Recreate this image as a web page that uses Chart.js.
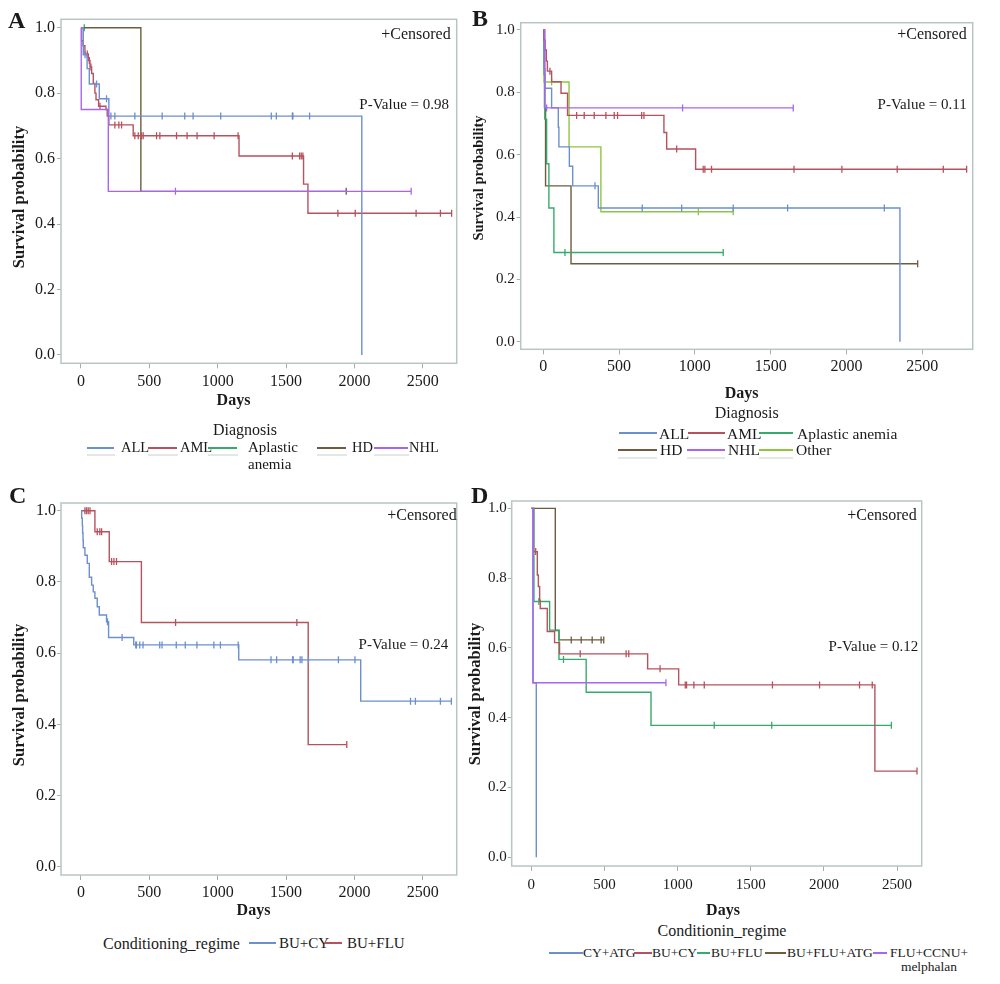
<!DOCTYPE html>
<html>
<head>
<meta charset="utf-8">
<title>Survival curves</title>
<script src="https://cdn.jsdelivr.net/npm/chart.js@4.4.1/dist/chart.umd.min.js"></script>
<style>
  body { margin: 0; background: #fff; }
  #page { position: relative; width: 1000px; height: 984px; overflow: hidden;
          font-family: "Liberation Serif", "Times New Roman", serif; color: #1a1a1a; }
  .box { position: absolute; }
  .t { position: absolute; white-space: nowrap; }
  .sw { position: absolute; }
</style>
</head>
<body>
<div id="page">
  <div class="box" id="boxA"><canvas id="chartA"></canvas></div>
  <div class="box" id="boxB"><canvas id="chartB"></canvas></div>
  <div class="box" id="boxC"><canvas id="chartC"></canvas></div>
  <div class="box" id="boxD"><canvas id="chartD"></canvas></div>
</div>
<script>
const FONT = '"Liberation Serif", "Times New Roman", serif';
const xTicks = [0, 500, 1000, 1500, 2000, 2500];
const yTicks = [0, 0.2, 0.4, 0.6, 0.8, 1.0];

const colBlue = '#6c8fce', colRed = '#b5525d', colGreen = '#35ab6b',
      colBrown = '#6d5c3f', colPurple = '#a866ee', colOlive = '#8ec63f';

// A - Diagnosis (days, survival at each step, censored days)
const aLabels = ['ALL', 'AML', 'Aplastic anemia', 'HD', 'NHL'];
const aAllT = [0, 17, 45, 61, 134, 204, 2054];
const aAllS = [1, 0.917, 0.875, 0.828, 0.783, 0.730, 0];
const aAllC = [30, 114, 187, 219, 248, 394, 594, 759, 820, 1022, 1392, 1429, 1546, 1550, 1672];
const aAmlT = [0, 5, 15, 29, 54, 66, 78, 90, 102, 110, 129, 183, 192, 204, 382, 1156, 1628, 1660];
const aAmlS = [1, 0.96, 0.945, 0.92, 0.90, 0.88, 0.86, 0.83, 0.80, 0.78, 0.76, 0.75, 0.73, 0.703, 0.67, 0.608, 0.522, 0.433];
const aAmlC = [46, 61, 73, 139, 248, 277, 297, 394, 419, 443, 455, 553, 577, 699, 776, 849, 974, 1149, 1546, 1599, 1611, 1623, 1879, 2006, 2451, 2629, 2711];
const aAplT = [0], aAplS = [1], aAplC = [24];
const aHdT = [0, 438], aHdS = [1, 0.5], aHdC = [1940];
const aNhlT = [0, 2, 200], aNhlS = [1, 0.75, 0.5], aNhlC = [691, 2415];

// B - Diagnosis
const bLabels = ['ALL', 'AML', 'Aplastic anemia', 'HD', 'NHL', 'Other'];
const bAllT = [0, 3, 6, 11, 55, 99, 103, 172, 194, 363, 2353];
const bAllS = [1, 0.938, 0.875, 0.813, 0.75, 0.688, 0.625, 0.563, 0.5, 0.429, 0];
const bAllC = [341, 653, 913, 1253, 1612, 2250];
const bAmlT = [0, 5, 12, 20, 27, 55, 117, 160, 796, 814, 1005];
const bAmlS = [1, 0.968, 0.936, 0.90, 0.868, 0.834, 0.797, 0.726, 0.671, 0.618, 0.553];
const bAmlC = [44, 220, 270, 336, 413, 468, 490, 649, 664, 880, 1055, 1066, 1110, 1654, 1970, 2335, 2639, 2793];
const bAplT = [0, 3, 10, 22, 37, 70], bAplS = [1, 0.857, 0.714, 0.571, 0.429, 0.286], bAplC = [143, 1187];
const bHdT = [0, 8, 15, 183], bHdS = [1, 0.75, 0.5, 0.25], bHdC = [2470];
const bNhlT = [0, 10], bNhlS = [1, 0.75], bNhlC = [22, 919, 1649];
const bOthT = [0, 5, 170, 380], bOthS = [1, 0.833, 0.625, 0.417], bOthC = [55, 1023, 1253];

// C - Conditioning regime
const cLabels = ['BU+CY', 'BU+FLU'];
const cCyT = [0, 5, 10, 12, 15, 17, 29, 46, 61, 78, 90, 102, 119, 134, 187, 202, 386, 1154, 2046];
const cCyS = [1, 0.979, 0.958, 0.938, 0.917, 0.896, 0.875, 0.852, 0.813, 0.791, 0.772, 0.754, 0.730, 0.707, 0.688, 0.644, 0.623, 0.581, 0.465];
const cCyC = [194, 301, 401, 406, 430, 454, 576, 593, 697, 763, 848, 972, 1020, 1150, 1390, 1431, 1548, 1552, 1603, 1616, 1664, 1883, 2004, 2410, 2446, 2629, 2709];
const cFluT = [0, 102, 207, 442, 1662];
const cFluS = [1, 0.941, 0.857, 0.686, 0.343];
const cFluC = [29, 41, 53, 66, 119, 138, 151, 224, 241, 260, 692, 1579, 1944];

// D - Conditioning regime
const dLabels = ['CY+ATG', 'BU+CY', 'BU+FLU', 'BU+FLU+ATG', 'FLU+CCNU+ melphalan'];
const dCyAtgT = [0, 12, 34], dCyAtgS = [1, 0.5, 0], dCyAtgC = [];
const dBuCyT = [0, 15, 41, 48, 57, 61, 109, 159, 193, 795, 1007, 2348];
const dBuCyS = [1, 0.876, 0.809, 0.776, 0.737, 0.713, 0.647, 0.615, 0.583, 0.54, 0.494, 0.247];
const dBuCyC = [30, 334, 648, 666, 880, 1052, 1061, 1111, 1182, 1648, 1970, 2243, 2330, 2636];
const dBuFluT = [0, 18, 125, 189, 375, 818], dBuFluS = [1, 0.733, 0.651, 0.567, 0.473, 0.378];
const dBuFluC = [52, 220, 1250, 1643, 2461];
const dAtgT = [0, 164, 189], dAtgS = [1, 0.65, 0.623], dAtgC = [273, 341, 416, 477, 495];
const dMelT = [0, 11], dMelS = [1, 0.5], dMelC = [920];

function survAt(times, surv, t) {
  let s = surv[0];
  for (let i = 0; i < times.length; i++) if (times[i] <= t) s = surv[i];
  return s;
}

// step line + censor ticks for one group
function curve(label, color, times, surv, cens) {
  const last = times[times.length - 1];
  const end = cens.length ? Math.max(last, Math.max(...cens)) : last;
  const pts = times.map((t, i) => ({x: t, y: surv[i]}));
  if (end > last) pts.push({x: end, y: surv[surv.length - 1]});
  return [
    {label: label, data: pts, borderColor: color, borderWidth: 1.4, stepped: true, pointRadius: 0, fill: false},
    {label: label + ' censored', data: cens.map(t => ({x: t, y: survAt(times, surv, t)})),
     showLine: false, pointStyle: 'line', rotation: 90, pointRadius: 3.5, borderColor: color, borderWidth: 1.3}
  ];
}

const framePlugin = {
  id: 'frame',
  beforeDatasetsDraw(chart) {
    const {ctx, chartArea: a} = chart;
    ctx.save();
    ctx.strokeStyle = '#b8c6c3';
    ctx.lineWidth = 1.5;
    ctx.strokeRect(a.left, a.top, a.right - a.left, a.bottom - a.top);
    ctx.restore();
  }
};

// g: canvas box (cl, ct, cw, ch), frame (fl, ft, fr, fb), axis ranges, tick fonts/padding
function makeChart(id, datasets, g) {
  const box = document.getElementById('box' + id);
  box.style.left = g.cl + 'px';
  box.style.top = g.ct + 'px';
  box.style.width = g.cw + 'px';
  box.style.height = g.ch + 'px';
  new Chart(document.getElementById('chart' + id), {
    type: 'line',
    data: {datasets: datasets},
    options: {
      responsive: true,
      maintainAspectRatio: false,
      animation: false,
      events: [],
      layout: {padding: {left: 0, top: g.ft - g.ct, right: g.cl + g.cw - g.fr, bottom: 0}},
      plugins: {legend: {display: false}, tooltip: {enabled: false}},
      scales: {
        x: {
          type: 'linear', min: g.xMin, max: g.xMax,
          afterBuildTicks: s => { s.ticks = xTicks.map(v => ({value: v})); },
          afterFit: s => { s.height = g.ct + g.ch - g.fb; },
          grid: {drawOnChartArea: false, drawTicks: true, tickLength: 5, color: '#a4aeac'},
          border: {display: false},
          ticks: {font: {family: FONT, size: g.xs}, color: '#1a1a1a', padding: g.xp,
                  maxRotation: 0, autoSkip: false, callback: v => String(v)}
        },
        y: {
          type: 'linear', min: g.yMin, max: g.yMax,
          afterBuildTicks: s => { s.ticks = yTicks.map(v => ({value: v})); },
          afterFit: s => { s.width = g.fl - g.cl; },
          grid: {drawOnChartArea: false, drawTicks: true, tickLength: 4, color: '#a4aeac'},
          border: {display: false},
          ticks: {font: {family: FONT, size: g.ys}, color: '#1a1a1a', padding: g.yp,
                  autoSkip: false, callback: v => v.toFixed(1)}
        }
      }
    },
    plugins: [framePlugin]
  });
}

makeChart('A', [
  ...curve(aLabels[4], colPurple, aNhlT, aNhlS, aNhlC),
  ...curve(aLabels[0], colBlue, aAllT, aAllS, aAllC),
  ...curve(aLabels[1], colRed, aAmlT, aAmlS, aAmlC),
  ...curve(aLabels[3], colBrown, aHdT, aHdS, aHdC),
  ...curve(aLabels[2], colGreen, aAplT, aAplS, aAplC)
], {cl: 0, ct: 7, cw: 462, ch: 410, fl: 61, ft: 19.3, fr: 457.3, fb: 363.3,
    xMin: -146, xMax: 2748, yMin: -0.0254, yMax: 1.0257, xs: 16, xp: 4, ys: 16, yp: 2});

makeChart('B', [
  ...curve(bLabels[4], colPurple, bNhlT, bNhlS, bNhlC),
  ...curve(bLabels[1], colRed, bAmlT, bAmlS, bAmlC),
  ...curve(bLabels[0], colBlue, bAllT, bAllS, bAllC),
  ...curve(bLabels[5], colOlive, bOthT, bOthS, bOthC),
  ...curve(bLabels[2], colGreen, bAplT, bAplS, bAplC),
  ...curve(bLabels[3], colBrown, bHdT, bHdS, bHdC)
], {cl: 462, ct: 10, cw: 516, ch: 390, fl: 520.7, ft: 22.7, fr: 972.7, fb: 349.3,
    xMin: -149, xMax: 2833, yMin: -0.0244, yMax: 1.0234, xs: 16, xp: 3, ys: 15, yp: 2});

makeChart('C', [
  ...curve(cLabels[0], colBlue, cCyT, cCyS, cCyC),
  ...curve(cLabels[1], colRed, cFluT, cFluS, cFluC)
], {cl: 0, ct: 490, cw: 462, ch: 430, fl: 61, ft: 503, fr: 458, fb: 875,
    xMin: -146, xMax: 2748, yMin: -0.0233, yMax: 1.0216, xs: 16, xp: 3, ys: 16, yp: 1});

makeChart('D', [
  ...curve(dLabels[4], colPurple, dMelT, dMelS, dMelC),
  ...curve(dLabels[0], colBlue, dCyAtgT, dCyAtgS, dCyAtgC),
  ...curve(dLabels[1], colRed, dBuCyT, dBuCyS, dBuCyC),
  ...curve(dLabels[2], colGreen, dBuFluT, dBuFluS, dBuFluC),
  ...curve(dLabels[3], colBrown, dAtgT, dAtgS, dAtgC)
], {cl: 462, ct: 488, cw: 465, ch: 432, fl: 511.7, ft: 501, fr: 923, fb: 866,
    xMin: -134, xMax: 2668, yMin: -0.025, yMax: 1.021, xs: 15, xp: 5, ys: 15, yp: 1});

// ---- text and legends ----
const page = document.getElementById('page');
function txt(s, x, cy, o = {}) {
  const size = o.size || 16;
  const lh = o.lh || size * 1.1;
  const d = document.createElement('div');
  d.className = 't';
  d.textContent = s;
  d.style.fontSize = size + 'px';
  d.style.lineHeight = lh + 'px';
  if (o.bold) d.style.fontWeight = 'bold';
  if (o.rot) {
    d.style.left = x + 'px';
    d.style.top = cy + 'px';
    d.style.transform = 'translate(-50%, -50%) rotate(-90deg)';
  } else {
    d.style.top = (cy - lh / 2) + 'px';
    if (o.align === 'c') { d.style.left = x + 'px'; d.style.transform = 'translateX(-50%)'; }
    else if (o.align === 'r') d.style.right = (1000 - x) + 'px';
    else d.style.left = x + 'px';
  }
  if (o.width) {
    d.style.width = o.width + 'px';
    d.style.whiteSpace = 'normal';
    d.style.textAlign = o.ta || 'left';
  }
  page.appendChild(d);
}
// legend swatch: a short solid line, snapped to whole pixels
function sw(x1, x2, y, color, w = 2) {
  const d = document.createElement('div');
  d.className = 'sw';
  d.style.left = Math.round(x1) + 'px';
  d.style.top = Math.round(y - w / 2) + 'px';
  d.style.width = Math.round(x2 - x1) + 'px';
  d.style.height = w + 'px';
  d.style.background = color;
  page.appendChild(d);
}

// panel letters
txt('A', 8, 20, {size: 24, bold: true});
txt('B', 472, 18.5, {size: 24, bold: true});
txt('C', 9, 495, {size: 24, bold: true});
txt('D', 471, 495, {size: 24, bold: true});

// axis titles
txt('Survival probability', 18.5, 196.5, {size: 16.5, bold: true, rot: true});
txt('Survival probability', 479, 177.5, {size: 14.5, bold: true, rot: true});
txt('Survival probability', 18.5, 695, {size: 16.5, bold: true, rot: true});
txt('Survival probability', 475, 694, {size: 16.5, bold: true, rot: true});
txt('Days', 233.5, 400, {bold: true, align: 'c'});
txt('Days', 741.7, 393, {bold: true, align: 'c'});
txt('Days', 253.5, 910, {bold: true, align: 'c'});
txt('Days', 723, 910, {bold: true, align: 'c'});

// in-plot notes
txt('+Censored', 450.7, 33.3, {align: 'r'});
txt('P-Value = 0.98', 449, 104.3, {align: 'r', size: 15});
txt('+Censored', 966.7, 33.3, {align: 'r'});
txt('P-Value = 0.11', 966.7, 104.3, {align: 'r', size: 15});
txt('+Censored', 456.7, 515, {align: 'r'});
txt('P-Value = 0.24', 448.3, 644, {align: 'r', size: 15});
txt('+Censored', 916.7, 515, {align: 'r'});
txt('P-Value = 0.12', 918.3, 646, {align: 'r', size: 15});

// legend A
txt('Diagnosis', 245, 430, {align: 'c'});
const aLeg = [[87, 114, 121, colBlue], [148, 177, 180, colRed], [208, 237, 248, colGreen],
              [317, 346, 352, colBrown], [374, 408, 409, colPurple]];
aLeg.forEach((p, i) => {
  sw(p[0], p[1] + 1, 455, '#e3e8e6', 2);
  sw(p[0], p[1], 448, p[3]);
  if (i === 2) txt(aLabels[i], p[2], 447.7, {size: 15, lh: 17.3, width: 60});
  else txt(aLabels[i], p[2], 447.7, {size: 14.5});
});

// legend B
txt('Diagnosis', 746.7, 413, {align: 'c'});
const bLeg = [[619, 657, 659, 433.3, colBlue], [688, 725, 727, 433.3, colRed], [759, 793, 797, 433.3, colGreen],
              [618, 657, 660, 450, colBrown], [687, 725, 728, 450, colPurple], [759, 793, 796, 450, colOlive]];
bLeg.forEach((p, i) => {
  if (i >= 3) sw(p[0], p[1], 458, '#e3e8e6', 2);
  sw(p[0], p[1], p[3], p[4]);
  txt(bLabels[i], p[2], p[3], {size: 15.5});
});

// legend C
txt('Conditioning_regime', 103, 943.3);
sw(249, 276, 943.3, colBlue);
txt(cLabels[0], 279, 943.3, {size: 15});
sw(325, 342, 943.3, colRed);
txt(cLabels[1], 347, 943.3, {size: 15});

// legend D
txt('Conditionin_regime', 722, 930.7, {align: 'c'});
const dLeg = [[549, 583, 583, colBlue], [634, 652, 652, colRed], [697, 710, 711, colGreen],
              [765, 786, 787, colBrown], [873, 887, 886, colPurple]];
dLeg.forEach((p, i) => {
  sw(p[0], p[1], 953.3, p[3]);
  if (i === 4) txt(dLabels[i], p[2], 953.3, {size: 13.5, lh: 13.7, width: 86, ta: 'center'});
  else txt(dLabels[i], p[2], 953.3, {size: 13.5});
});
</script>
</body>
</html>
